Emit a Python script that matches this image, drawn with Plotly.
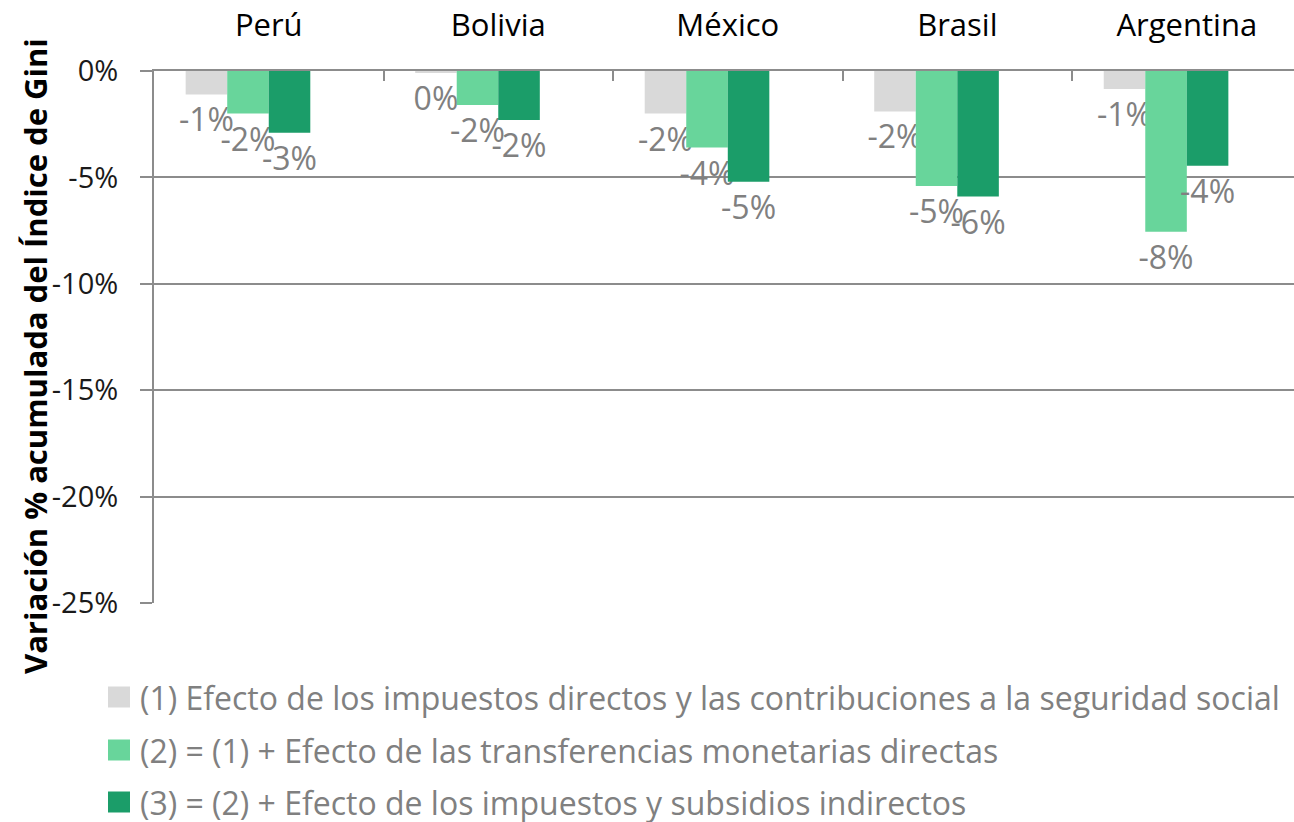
import plotly.graph_objects as go

countries = ["Perú", "Bolivia", "México", "Brasil", "Argentina"]
series_names = [
    "(1) Efecto de los impuestos directos y las contribuciones a la seguridad social",
    "(2) = (1) + Efecto de las transferencias monetarias directas",
    "(3) = (2) + Efecto de los impuestos y subsidios indirectos",
]
s1 = [-1.1, -0.05, -2.0, -1.9, -0.85]
s2 = [-2.0, -1.6, -3.6, -5.4, -7.55]
s3 = [-2.9, -2.3, -5.2, -5.9, -4.45]
labels1 = ["-1%", "0%", "-2%", "-2%", "-1%"]
labels2 = ["-2%", "-2%", "-4%", "-5%", "-8%"]
labels3 = ["-3%", "-2%", "-5%", "-6%", "-4%"]
colors = ["#D9D9D9", "#68D59B", "#1B9D69"]

FONT = "'Open Sans', sans-serif"
# plot area in pixels
L, R, T, B = 154, 1294, 71, 603
PW, PH = R - L, B - T


def px_x(p):
    return (p - L) / PW


def px_y(p):
    return (B - p) / PH


W = 0.181
fig = go.Figure()
for i, (vals, labs) in enumerate(zip([s1, s2, s3], [labels1, labels2, labels3])):
    fig.add_trace(go.Bar(
        x=countries, y=vals, name=series_names[i],
        marker=dict(color=colors[i], line=dict(width=0)),
        width=W, offset=-2 * W + i * W,
        text=labs, textposition="outside", constraintext="none", cliponaxis=False,
        textfont=dict(family=FONT, size=32, color="#808080"),
        showlegend=False,
    ))

shapes = []
annotations = [dict(
    text="<b>Variación % acumulada del Índice de Gini</b>",
    textangle=-90, xref="paper", yref="paper",
    x=px_x(35), y=px_y(356),
    xanchor="center", yanchor="middle", showarrow=False,
    font=dict(family=FONT, size=31, color="#000000"),
)]
row_centers = [697, 750, 802]
for i, name in enumerate(series_names):
    cy = row_centers[i]
    shapes.append(dict(
        type="rect", xref="paper", yref="paper",
        x0=px_x(108), x1=px_x(130), y0=px_y(cy + 10.5), y1=px_y(cy - 10.5),
        fillcolor=colors[i], line=dict(width=0),
    ))
    annotations.append(dict(
        text=name, xref="paper", yref="paper",
        x=px_x(138), y=px_y(cy), xanchor="left", yanchor="middle",
        showarrow=False,
        font=dict(family=FONT, size=32, color="#808080"),
    ))

fig.update_layout(
    width=1294, height=822,
    margin=dict(l=L, r=1294 - R, t=T, b=822 - B, autoexpand=False),
    plot_bgcolor="white", paper_bgcolor="white",
    barmode="overlay",
    font=dict(family=FONT),
    showlegend=False,
    xaxis=dict(
        side="top", type="category", range=[-0.5, 4.467],
        showline=True, linecolor="#8C8C8C", linewidth=2,
        ticks="inside", ticklen=10, tickcolor="#8C8C8C", tickwidth=2,
        tickson="boundaries", showgrid=False, automargin=False,
        tickfont=dict(family=FONT, size=31, color="#000000"),
        ticklabelstandoff=21,
    ),
    yaxis=dict(
        range=[-25, 0], tickvals=[0, -5, -10, -15, -20, -25],
        ticktext=["0%", "-5%", "-10%", "-15%", "-20%", "-25%"],
        showgrid=True, gridcolor="#8C8C8C", gridwidth=2,
        showline=True, linecolor="#8C8C8C", linewidth=2,
        ticks="outside", ticklen=12, tickcolor="#8C8C8C", tickwidth=2,
        tickfont=dict(family=FONT, size=29, color="#1A1A1A"),
        ticklabelstandoff=16, zeroline=False, automargin=False,
    ),
    shapes=shapes,
    annotations=annotations,
)

fig.write_html(
    "out.html",
    config={"displayModeBar": False},
    post_script="document.body.style.margin='0';document.body.style.overflow='hidden';",
)
